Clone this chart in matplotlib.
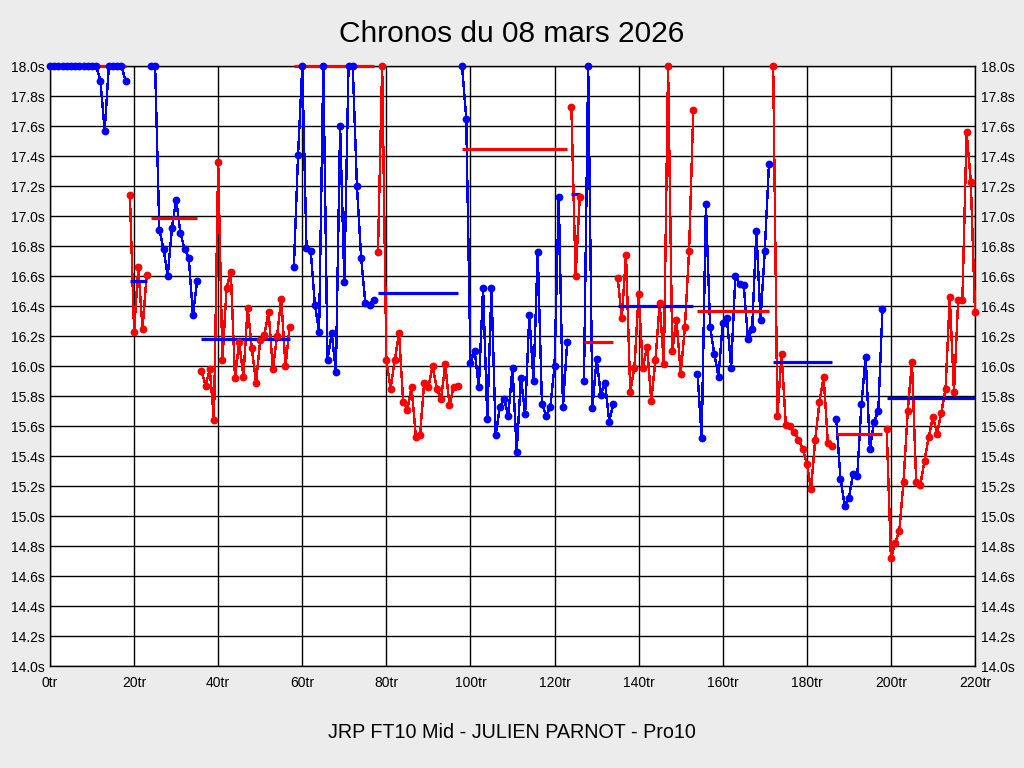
import numpy as np
import matplotlib
matplotlib.use('Agg')
import matplotlib.pyplot as plt

plt.rcParams['font.family'] = ['Liberation Sans', 'DejaVu Sans']

# lap times per stint (values above 18.0s are shown clipped at 18.0)
stint_start = [0, 19, 24, 36, 58, 78, 98, 124, 127, 135, 154, 172, 187, 199]
stint_color = ['blue', 'red', 'blue', 'red', 'blue', 'red', 'blue',
               'red', 'blue', 'red', 'blue', 'red', 'blue', 'red']
stint_laps = [
    [18.0, 18.0, 18.0, 18.0, 18.0, 18.0, 18.0, 18.0, 18.0, 18.0, 18.0, 18.0,
     17.90, 17.57, 18.0, 18.0, 18.0, 18.0, 17.90],
    [17.14, 16.23, 16.66, 16.25, 16.61],
    [18.0, 18.0, 16.91, 16.78, 16.60, 16.92, 17.11, 16.89, 16.78, 16.72, 16.34, 16.57],
    [15.97, 15.87, 15.98, 15.64, 17.36, 16.04, 16.52, 16.63, 15.92, 16.16, 15.93,
     16.39, 16.12, 15.89, 16.17, 16.21, 16.36, 15.98, 16.20, 16.45, 16.00, 16.26],
    [16.66, 17.41, 18.0, 16.79, 16.77, 16.41, 16.23, 18.0, 16.04, 16.22, 15.96,
     17.60, 16.56, 18.0, 18.0, 17.20, 16.72, 16.42, 16.41, 16.44],
    [16.76, 18.0, 16.04, 15.85, 16.04, 16.22, 15.76, 15.71, 15.86, 15.53, 15.54,
     15.89, 15.86, 16.00, 15.85, 15.78, 16.01, 15.74, 15.86, 15.87],
    [18.0, 17.65, 16.02, 16.10, 15.86, 16.52, 15.65, 16.52, 15.54, 15.73, 15.78,
     15.67, 15.99, 15.43, 15.92, 15.68, 16.34, 15.90, 16.76, 15.75, 15.67, 15.73,
     16.00, 17.13, 15.73, 16.16],
    [17.73, 16.60, 17.13],
    [15.90, 18.0, 15.72, 16.05, 15.81, 15.89, 15.63, 15.75],
    [16.59, 16.32, 16.74, 15.83, 15.99, 16.48, 15.99, 16.13, 15.77, 16.04, 16.42,
     16.01, 18.0, 16.10, 16.31, 15.95, 16.26, 16.77, 17.71],
    [15.95, 15.52, 17.08, 16.26, 16.08, 15.93, 16.29, 16.32, 15.99, 16.60, 16.55,
     16.54, 16.18, 16.25, 16.90, 16.31, 16.77, 17.35],
    [18.0, 15.67, 16.08, 15.61, 15.60, 15.56, 15.51, 15.45, 15.35, 15.18, 15.51,
     15.76, 15.93, 15.49, 15.47],
    [15.65, 15.25, 15.07, 15.12, 15.28, 15.27, 15.75, 16.06, 15.45, 15.63, 15.70, 16.38],
    [15.58, 14.72, 14.82, 14.90, 15.23, 15.70, 16.03, 15.23, 15.21, 15.37, 15.53,
     15.66, 15.55, 15.69, 15.85, 16.46, 15.83, 16.44, 16.44, 17.56, 17.23, 16.36],
]
# stint averages (drawn in the other colour)
stint_mean = [18.0, 16.57, 16.99, 16.18, 18.0, 16.49, 17.45, 17.15,
              16.16, 16.40, 16.37, 16.03, 15.55, 15.79]

title = 'Chronos du 08 mars 2026'
subtitle = 'JRP FT10 Mid - JULIEN PARNOT - Pro10'
xticks = list(range(0, 221, 20))
yticks = np.round(np.arange(14.0, 18.01, 0.2), 1)

fig = plt.figure(figsize=(10.24, 7.68), dpi=100, facecolor='#ececec')
ax = fig.add_axes([50 / 1024, 1 - 666 / 768, 925 / 1024, 600 / 768])
ax.set_facecolor('white')

for start, col, vals, m in zip(stint_start, stint_color, stint_laps, stint_mean):
    laps = np.arange(start, start + len(vals))
    other = 'red' if col == 'blue' else 'blue'
    ax.plot(laps, vals, color=col, lw=1, antialiased=False, zorder=3, clip_on=False)
    ax.plot([laps[0], laps[-1]], [m, m], color=other, lw=2.3, zorder=4,
            solid_capstyle='butt', clip_on=False)
    ax.plot(laps, vals, ls='none', marker='o', ms=4.6, color=col, zorder=5, clip_on=False)

ax.set_xlim(0, 220)
ax.set_ylim(14.0, 18.0)
ax.set_xticks(xticks)
ax.set_xticklabels([f'{v}tr' for v in xticks])
ax.set_yticks(yticks)
ax.set_yticklabels([f'{v:.1f}s' for v in yticks])
ax.tick_params(length=0, labelsize=10, right=True, labelright=True)
ax.tick_params(axis='y', pad=4)
ax.tick_params(axis='x', pad=7)
ax.grid(True, color='black', lw=1)
ax.set_axisbelow(True)
for s in ax.spines.values():
    s.set_color('black')
    s.set_linewidth(1)

fig.text(0.5, 1 - 34 / 768, title, ha='center', va='center', fontsize=21.5)
fig.text(0.5, 1 - 733 / 768, subtitle, ha='center', va='center', fontsize=14.2)

fig.savefig('out.png', dpi=100, facecolor=fig.get_facecolor())
